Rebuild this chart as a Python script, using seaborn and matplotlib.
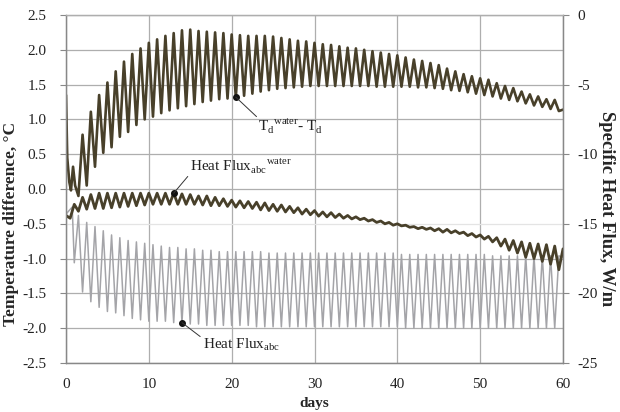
import numpy as np
import pandas as pd
import seaborn as sns
import matplotlib.pyplot as plt
from matplotlib.ticker import FormatStrFormatter, MultipleLocator

# T_d^water - T_d (left axis, degC): start transient, daily maxima (days 2..59), daily minima (days 1.5..59.5)
td_start_days = [0.0, 0.15, 0.4, 0.6, 0.85, 1.1]
td_start = [1.35, 0.45, 0.10, -0.02, 0.32, 0.05]
td_peaks = [0.78, 1.11, 1.35, 1.53, 1.69, 1.83, 1.94, 2.02, 2.10, 2.15,
            2.20, 2.24, 2.28, 2.29, 2.27, 2.26, 2.25, 2.24, 2.22, 2.21,
            2.20, 2.20, 2.20, 2.19, 2.17, 2.15, 2.13, 2.12, 2.10, 2.08,
            2.07, 2.05, 2.03, 2.02, 2.00, 1.98, 1.96, 1.94, 1.92, 1.89,
            1.86, 1.84, 1.81, 1.78, 1.73, 1.69, 1.65, 1.62, 1.59, 1.57,
            1.52, 1.48, 1.45, 1.40, 1.36, 1.33, 1.29, 1.28]
td_troughs = [-0.10, 0.05, 0.32, 0.52, 0.60, 0.75, 0.82, 0.92, 1.00, 1.04,
              1.09, 1.13, 1.16, 1.19, 1.22, 1.25, 1.27, 1.29, 1.30, 1.32,
              1.34, 1.37, 1.40, 1.42, 1.44, 1.45, 1.46, 1.47, 1.48, 1.48,
              1.48, 1.48, 1.48, 1.48, 1.48, 1.48, 1.47, 1.47, 1.47, 1.47,
              1.47, 1.46, 1.46, 1.45, 1.44, 1.42, 1.41, 1.39, 1.37, 1.35,
              1.33, 1.30, 1.28, 1.26, 1.23, 1.20, 1.18, 1.15, 1.12]
td_end = 1.14

# Heat Flux_abc^water (right axis, W/m): daily tops (days 1..59), bottoms (days 0.5..59.5)
water_start = -14.4
water_tops = [-13.6, -13.1, -12.9, -12.8, -12.8, -12.8, -12.8, -12.8, -12.8, -12.8,
              -12.8, -12.8, -12.8, -12.85, -12.9, -13.0, -13.0, -13.1, -13.2, -13.3,
              -13.35, -13.4, -13.45, -13.5, -13.6, -13.65, -13.75, -13.85, -13.95, -14.05,
              -14.15, -14.2, -14.3, -14.4, -14.5, -14.6, -14.7, -14.8, -14.9, -15.0,
              -15.1, -15.2, -15.25, -15.3, -15.35, -15.4, -15.5, -15.6, -15.7, -15.8,
              -15.9, -16.0, -16.1, -16.2, -16.3, -16.4, -16.45, -16.5, -16.6]
water_bottoms = [-14.6, -14.1, -13.95, -13.9, -13.9, -13.85, -13.8, -13.75, -13.7, -13.65,
                 -13.6, -13.6, -13.6, -13.6, -13.6, -13.6, -13.65, -13.7, -13.7, -13.75,
                 -13.8, -13.85, -13.9, -14.0, -14.05, -14.1, -14.15, -14.2, -14.3, -14.35,
                 -14.45, -14.5, -14.55, -14.6, -14.65, -14.7, -14.8, -14.9, -15.0, -15.1,
                 -15.15, -15.25, -15.35, -15.4, -15.5, -15.6, -15.65, -15.7, -15.85, -15.95,
                 -16.1, -16.3, -16.6, -16.9, -17.1, -17.4, -17.5, -17.7, -17.9, -18.3]
water_end = -16.8

# Heat Flux_abc (right axis, W/m): daily minima (days 1..59), maxima (days 0.75, 1.5..59.5)
gray_start = [-14.3, -13.8]
gray_troughs = [-17.8, -19.9, -20.6, -21.0, -21.3, -21.4, -21.6, -21.8, -21.9, -22.0,
                -22.0, -22.0, -22.1, -22.1, -22.2, -22.2, -22.3, -22.3, -22.3, -22.3,
                -22.3, -22.3, -22.4, -22.4, -22.4, -22.4, -22.4, -22.4, -22.4, -22.4,
                -22.4, -22.4, -22.4, -22.4, -22.4, -22.4, -22.4, -22.4, -22.4, -22.4,
                -22.5, -22.5, -22.5, -22.5, -22.5, -22.5, -22.5, -22.5, -22.5, -22.5,
                -22.5, -22.5, -22.5, -22.5, -22.5, -22.5, -22.5, -22.5, -22.5]
gray_tops = [-14.4, -14.9, -15.2, -15.5, -15.8, -16.0, -16.2, -16.3, -16.4, -16.5,
             -16.6, -16.7, -16.7, -16.8, -16.8, -16.9, -16.9, -17.0, -17.0, -17.0,
             -17.0, -17.0, -17.0, -17.1, -17.1, -17.1, -17.1, -17.1, -17.1, -17.1,
             -17.1, -17.1, -17.1, -17.1, -17.1, -17.1, -17.1, -17.1, -17.1, -17.2,
             -17.2, -17.2, -17.2, -17.2, -17.2, -17.2, -17.2, -17.2, -17.2, -17.2,
             -17.3, -17.3, -17.3, -17.3, -17.3, -17.3, -17.3, -17.3, -17.3]
gray_end = -17.4


def series(parts):
    d = np.concatenate([np.asarray(p[0], float) for p in parts])
    v = np.concatenate([np.asarray(p[1], float) for p in parts])
    order = np.argsort(d, kind="stable")
    return pd.DataFrame({"days": d[order], "value": v[order]})


td_peak_days = np.arange(2, 2 + len(td_peaks))
td_trough_days = np.arange(len(td_troughs)) + 1.5
td = series([(td_start_days, td_start), (td_peak_days, td_peaks),
             (td_trough_days, td_troughs), ([60], [td_end])])

water_top_days = np.arange(1, 1 + len(water_tops))
water_bottom_days = np.arange(len(water_bottoms)) + 0.5
water = series([([0], [water_start]), (water_top_days, water_tops),
                (water_bottom_days, water_bottoms), ([60], [water_end])])

gray_trough_days = np.arange(1, 1 + len(gray_troughs))
gray_top_days = np.arange(len(gray_tops)) + 1.5
gray = series([([0, 0.75], gray_start), (gray_trough_days, gray_troughs),
               (gray_top_days, gray_tops), ([60], [gray_end])])

sns.set_style("white")
plt.rcParams["font.family"] = ["Liberation Serif", "DejaVu Serif"]
plt.rcParams["mathtext.fontset"] = "custom"
plt.rcParams["mathtext.rm"] = "Liberation Serif"
plt.rcParams["axes.unicode_minus"] = False

DARK = "#48402a"
GRAY = "#a4a4a8"
GRID = "#aeaeae"
AXC = "#888888"

fig = plt.figure(figsize=(6.2, 4.12), dpi=100)
ax = fig.add_axes([66 / 620, 49 / 412, 497 / 620, 348 / 412])
ax2 = ax.twinx()

sns.lineplot(data=gray, x="days", y="value", ax=ax2, color=GRAY, linewidth=1.1,
             estimator=None, sort=False)
sns.lineplot(data=water, x="days", y="value", ax=ax2, color=DARK, linewidth=2.0,
             estimator=None, sort=False)
sns.lineplot(data=td, x="days", y="value", ax=ax, color=DARK, linewidth=1.9,
             estimator=None, sort=False)

ax.set_xlim(0, 60)
ax.set_ylim(-2.5, 2.5)
ax2.set_ylim(-25, 0)
ax.xaxis.set_major_locator(MultipleLocator(10))
ax.yaxis.set_major_locator(MultipleLocator(0.5))
ax.yaxis.set_major_formatter(FormatStrFormatter("%.1f"))
ax2.yaxis.set_major_locator(MultipleLocator(5))

ax.grid(True, color=GRID, linewidth=0.9)
ax.get_ygridlines()[5].set_color("#e4e4e4")
ax.set_axisbelow(True)

for a in (ax, ax2):
    a.tick_params(direction="out", length=4, width=0.8, color=AXC, labelsize=11,
                  labelcolor="#222222")
    for s in a.spines.values():
        s.set_color(AXC)
        s.set_linewidth(0.9)
ax.tick_params(axis="y", pad=10)
ax.tick_params(axis="x", pad=7)
ax2.tick_params(axis="y", pad=6)
ax.spines["top"].set_color(GRID)
ax2.spines["top"].set_color(GRID)

ax.set_xlabel("days", fontsize=11, fontweight="bold")
ax.xaxis.set_label_coords(0.5, -0.097)
ax.set_ylabel("Temperature difference, °C", fontsize=12.5, fontweight="bold")
ax.yaxis.set_label_coords(-0.094, 0.4)
ax2.set_ylabel("Specific Heat Flux, W/m", fontsize=13.5, fontweight="bold", rotation=270,
               va="center")
ax2.yaxis.set_label_coords(1.088, 0.445)

# labels with leader lines, anchored on points of the series
lab_kw = dict(fontsize=11, color="#222222", va="center", ha="left")
line_kw = dict(arrowstyle="-", color="#333333", lw=0.7, shrinkA=0, shrinkB=0)

p_td = (td_trough_days[19], td_troughs[19])
ax.annotate("", xy=p_td, xytext=(23.0, 1.04), arrowprops=line_kw)
ax.plot(*p_td, "o", color="#111111", ms=4)
ax.text(23.2, 0.90, r"T$_\mathregular{d}$$^\mathregular{water}$- T$_\mathregular{d}$", **lab_kw)

p_w = (water_top_days[12], water_tops[12])
ax2.annotate("", xy=p_w, xytext=(14.7, -11.6), arrowprops=line_kw)
ax2.plot(*p_w, "o", color="#111111", ms=4)
ax2.text(15.0, -10.9, r"Heat Flux$_\mathregular{abc}$$^\mathregular{water}$", **lab_kw)

p_g = (gray_trough_days[13], gray_troughs[13])
ax2.annotate("", xy=p_g, xytext=(16.2, -23.1), arrowprops=line_kw)
ax2.plot(*p_g, "o", color="#111111", ms=4)
ax2.text(16.5, -23.7, r"Heat Flux$_\mathregular{abc}$", **lab_kw)

fig.savefig("out.png", dpi=100)
